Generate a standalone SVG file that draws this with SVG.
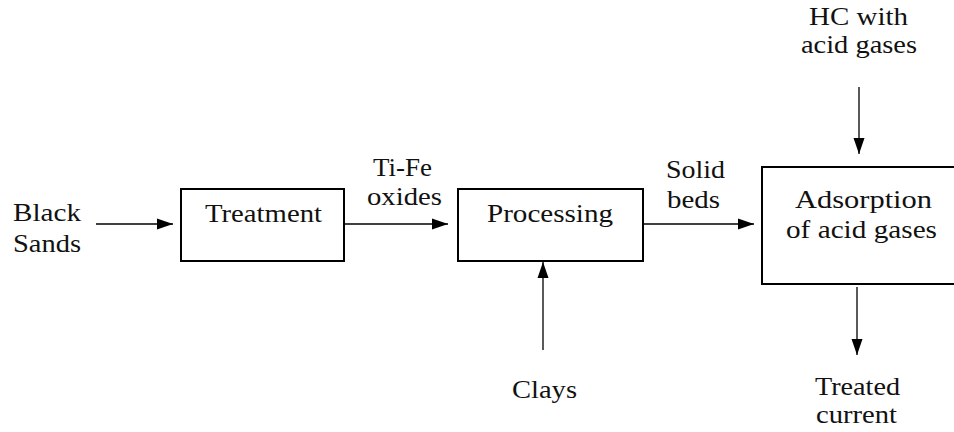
<svg xmlns="http://www.w3.org/2000/svg" width="954" height="432" viewBox="0 0 954 432">
<style>
.box { fill: #fff; stroke: #000; stroke-width: 2; }
.conn { stroke: #000; stroke-width: 1.3; fill: none; marker-end: url(#arrow); }
.t { font-family: 'Liberation Serif', 'Times New Roman', serif; font-size: 25px; fill: #111; }
</style>
<defs>
<marker id="arrow" markerUnits="userSpaceOnUse" markerWidth="16" markerHeight="12" refX="16" refY="6" orient="auto">
<path d="M0,0.5 L16,6 L0,11.5 z" fill="#000"/>
</marker>
</defs>
<rect width="954" height="432" fill="#fff"/>
<g id="connectors">
<line class="conn" x1="96" y1="224" x2="173" y2="224"/>
<line class="conn" x1="345" y1="224" x2="448" y2="224"/>
<line class="conn" x1="644" y1="224" x2="754" y2="224"/>
<line class="conn" x1="543" y1="350" x2="543" y2="262"/>
<line class="conn" x1="859" y1="87" x2="859" y2="154"/>
<line class="conn" x1="857" y1="287" x2="857" y2="355"/>
</g>
<g id="treatment">
<rect class="box" x="181" y="189" width="163" height="72"/>
<text class="t" x="205" y="222" textLength="117" lengthAdjust="spacingAndGlyphs">Treatment</text>
</g>
<g id="processing">
<rect class="box" x="458" y="189" width="185" height="72"/>
<text class="t" x="487" y="222" textLength="126" lengthAdjust="spacingAndGlyphs">Processing</text>
</g>
<g id="adsorption">
<rect class="box" x="762" y="167" width="200" height="117"/>
<text class="t" x="795" y="208" textLength="137" lengthAdjust="spacingAndGlyphs">Adsorption</text>
<text class="t" x="786" y="238" textLength="151" lengthAdjust="spacingAndGlyphs">of acid gases</text>
</g>
<g id="black-sands">
<text class="t" x="13" y="221" textLength="68" lengthAdjust="spacingAndGlyphs">Black</text>
<text class="t" x="13" y="252" textLength="68" lengthAdjust="spacingAndGlyphs">Sands</text>
</g>
<g id="ti-fe-oxides">
<text class="t" x="373" y="176" textLength="59" lengthAdjust="spacingAndGlyphs">Ti-Fe</text>
<text class="t" x="367" y="205" textLength="75" lengthAdjust="spacingAndGlyphs">oxides</text>
</g>
<g id="solid-beds">
<text class="t" x="666" y="178" textLength="59" lengthAdjust="spacingAndGlyphs">Solid</text>
<text class="t" x="667" y="208" textLength="53" lengthAdjust="spacingAndGlyphs">beds</text>
</g>
<g id="hc-acid-gases">
<text class="t" x="809" y="25" textLength="99" lengthAdjust="spacingAndGlyphs">HC with</text>
<text class="t" x="801" y="53" textLength="116" lengthAdjust="spacingAndGlyphs">acid gases</text>
</g>
<g id="clays">
<text class="t" x="512" y="398" textLength="65" lengthAdjust="spacingAndGlyphs">Clays</text>
</g>
<g id="treated-current">
<text class="t" x="815" y="395" textLength="85" lengthAdjust="spacingAndGlyphs">Treated</text>
<text class="t" x="816" y="423" textLength="81" lengthAdjust="spacingAndGlyphs">current</text>
</g>
</svg>
